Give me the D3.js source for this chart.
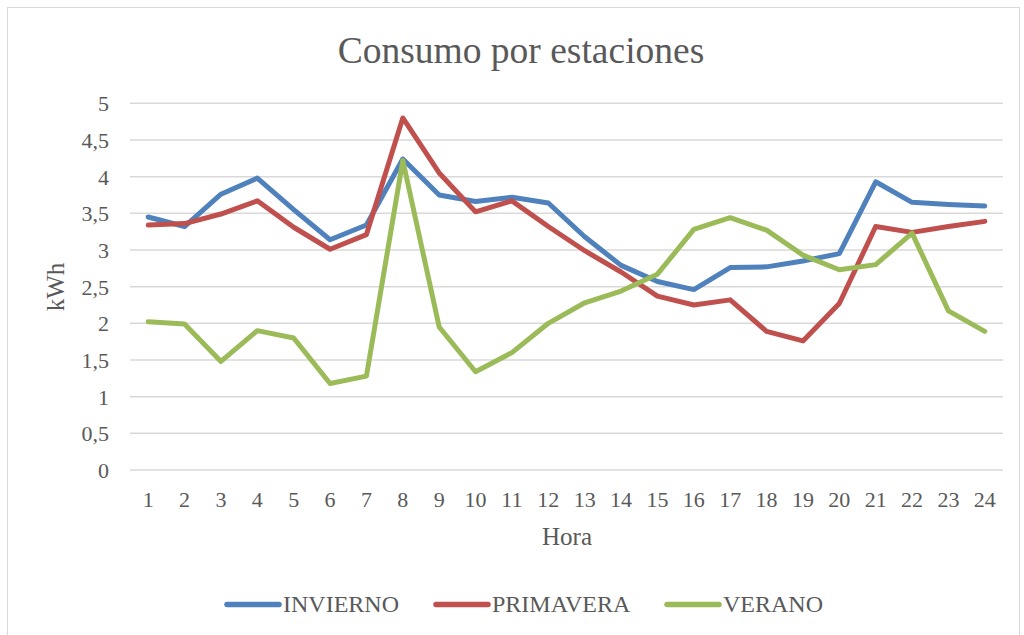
<!DOCTYPE html>
<html>
<head>
<meta charset="utf-8">
<script src="https://cdn.jsdelivr.net/npm/d3@7"></script>
<style>
  html, body { margin: 0; padding: 0; background: #fff; }
  svg { display: block; }
  text { font-family: "Liberation Serif", "Times New Roman", serif; fill: #595959; }
</style>
</head>
<body>
<svg id="chart" width="1024" height="635"></svg>
<script>
const hours = ["1","2","3","4","5","6","7","8","9","10","11","12","13","14","15","16","17","18","19","20","21","22","23","24"];
const invierno = [3.45,3.32,3.76,3.98,3.55,3.14,3.34,4.24,3.75,3.66,3.72,3.64,3.18,2.79,2.57,2.46,2.76,2.77,2.85,2.95,3.93,3.65,3.62,3.60];
const primavera = [3.34,3.36,3.49,3.67,3.31,3.01,3.21,4.80,4.05,3.52,3.67,3.32,2.99,2.70,2.37,2.25,2.32,1.89,1.76,2.27,3.32,3.24,3.32,3.39];
const verano = [2.02,1.99,1.48,1.90,1.80,1.18,1.28,4.22,1.95,1.34,1.60,2.00,2.28,2.44,2.67,3.28,3.44,3.27,2.93,2.73,2.80,3.23,2.17,1.89];
const yTicks = [0,0.5,1,1.5,2,2.5,3,3.5,4,4.5,5];
const seriesNames = ["INVIERNO","PRIMAVERA","VERANO"];
const seriesColors = ["#4F81BD","#C0504D","#9BBB59"];
const title = "Consumo por estaciones";
const xTitle = "Hora";
const yTitle = "kWh";

const svg = d3.select("#chart");
const plot = {left: 130, right: 1003, top: 103.3, bottom: 470};

// chart border
svg.append("rect").attr("x", 7.5).attr("y", 7.5).attr("width", 1012).attr("height", 640)
  .attr("fill", "#fff").attr("stroke", "#D9D9D9").attr("stroke-width", 1);

const x = d3.scaleBand().domain(hours).range([plot.left, plot.right]);
const y = d3.scaleLinear().domain([0, 5]).range([plot.bottom, plot.top]);
const fmt = d => String(d).replace(".", ",");

// gridlines
svg.append("g").selectAll("line").data(yTicks).join("line")
  .attr("x1", plot.left).attr("x2", plot.right)
  .attr("y1", d => y(d)).attr("y2", d => y(d))
  .attr("stroke", "#D9D9D9").attr("stroke-width", 1.5);

// y axis labels
const yAxis = d3.axisLeft(y).tickValues(yTicks).tickFormat(fmt).tickSize(0).tickPadding(0);
const gy = svg.append("g").attr("transform", `translate(${plot.left - 21},0)`).call(yAxis);
gy.select(".domain").remove();
gy.selectAll("text").attr("font-size", 22).attr("font-family", "Liberation Serif").attr("fill", "#595959").attr("dy", "0.34em");

// x axis labels
const xAxis = d3.axisBottom(x).tickSize(0).tickPadding(0);
const gx = svg.append("g").attr("transform", `translate(0,${plot.bottom})`).call(xAxis);
gx.select(".domain").remove();
gx.selectAll("text").attr("font-size", 22).attr("font-family", "Liberation Serif").attr("fill", "#595959").attr("y", 37).attr("dy", 0);

// lines
const data = [invierno, primavera, verano];
const line = d3.line().x((d, i) => x(hours[i]) + x.bandwidth() / 2).y(d => y(d));
svg.append("g").selectAll("path").data(data).join("path")
  .attr("d", d => line(d))
  .attr("fill", "none")
  .attr("stroke", (d, i) => seriesColors[i])
  .attr("stroke-width", 5)
  .attr("stroke-linejoin", "round")
  .attr("stroke-linecap", "round");

// titles
svg.append("text").attr("x", 521).attr("y", 63).attr("text-anchor", "middle")
  .attr("font-size", 37.5).text(title);
svg.append("text").attr("x", 567).attr("y", 545).attr("text-anchor", "middle")
  .attr("font-size", 25).text(xTitle);
svg.append("text").attr("transform", "translate(64,287) rotate(-90)").attr("text-anchor", "middle")
  .attr("font-size", 25).text(yTitle);

// legend
const legendX = [225, 434, 665];
const lg = svg.append("g").selectAll("g").data(seriesNames).join("g")
  .attr("transform", (d, i) => `translate(${legendX[i]},604.5)`);
lg.append("line").attr("x1", 2).attr("x2", 54).attr("y1", 0).attr("y2", 0)
  .attr("stroke", (d, i) => seriesColors[i]).attr("stroke-width", 5.5).attr("stroke-linecap", "round");
lg.append("text").attr("x", 58).attr("y", 7.5).attr("font-size", 24).text(d => d);
</script>
</body>
</html>
